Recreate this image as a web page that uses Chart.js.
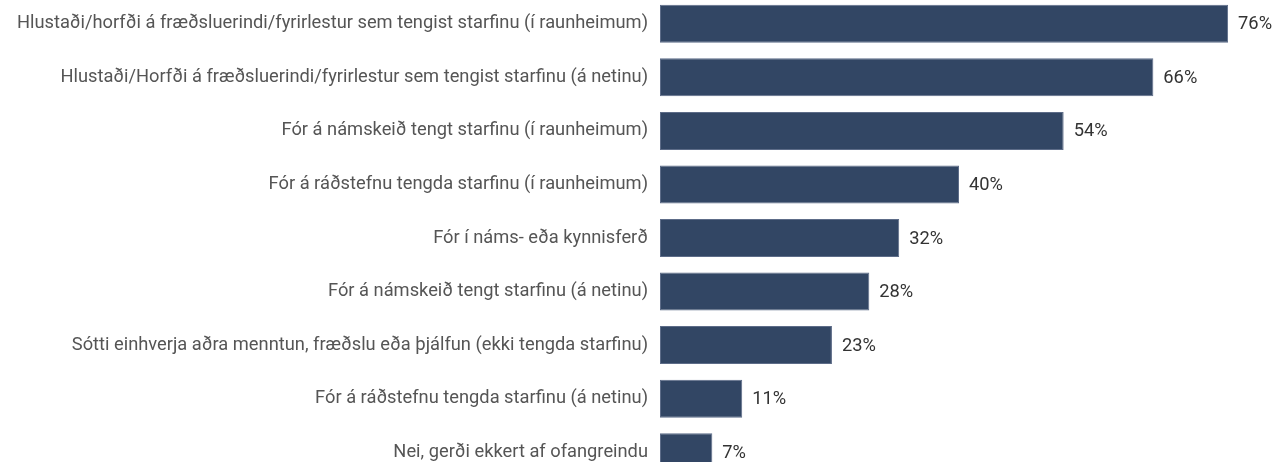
<!DOCTYPE html>
<html lang="is">
<head>
    <meta charset="UTF-8">
    <title>Fræðsla tengd starfinu</title>
    <script src="https://cdn.jsdelivr.net/npm/chart.js"></script>
    <style>
        html, body { margin: 0; padding: 0; background: #fff; overflow: hidden; }
        #chart { display: block; margin-top: -3px; }
    </style>
</head>
<body>
    <canvas id="chart" width="1278" height="482"></canvas>

    <script>
        // categories and values (percent)
        const categories = [
            'Hlustaði/horfði á fræðsluerindi/fyrirlestur sem tengist starfinu (í raunheimum)',
            'Hlustaði/Horfði á fræðsluerindi/fyrirlestur sem tengist starfinu (á netinu)',
            'Fór á námskeið tengt starfinu (í raunheimum)',
            'Fór á ráðstefnu tengda starfinu (í raunheimum)',
            'Fór í náms- eða kynnisferð',
            'Fór á námskeið tengt starfinu (á netinu)',
            'Sótti einhverja aðra menntun, fræðslu eða þjálfun (ekki tengda starfinu)',
            'Fór á ráðstefnu tengda starfinu (á netinu)',
            'Nei, gerði ekkert af ofangreindu'
        ];
        const values = [76, 66, 54, 40, 32, 28, 23, 11, 7];
        const valueLabels = ['76%', '66%', '54%', '40%', '32%', '28%', '23%', '11%', '7%'];

        // draw the % text after each bar
        const valueLabelPlugin = {
            id: 'valueLabels',
            afterDatasetsDraw(chart) {
                const ctx = chart.ctx;
                const meta = chart.getDatasetMeta(0);
                ctx.save();
                ctx.font = '18.3px Roboto';
                ctx.fillStyle = '#333333';
                ctx.textAlign = 'left';
                ctx.textBaseline = 'middle';
                meta.data.forEach((bar, i) => {
                    ctx.fillText(valueLabels[i], bar.x + 10, bar.y + 1);
                });
                ctx.restore();
            }
        };

        new Chart(document.getElementById('chart'), {
            type: 'bar',
            data: {
                labels: categories,
                datasets: [{
                    data: values,
                    backgroundColor: '#324664',
                    borderColor: '#5d6c88',
                    borderWidth: 1,
                    borderSkipped: false,
                    barPercentage: 0.71,
                    categoryPercentage: 1
                }]
            },
            options: {
                indexAxis: 'y',
                responsive: false,
                animation: false,
                layout: { padding: { left: 0, right: 20, top: 0, bottom: 0 } },
                plugins: {
                    legend: { display: false },
                    tooltip: { enabled: false }
                },
                scales: {
                    x: {
                        display: false,
                        min: 0,
                        max: 80
                    },
                    y: {
                        afterFit(scale) {
                            scale.width = 660;
                            // no extra room above/below, the image is cropped
                            scale.paddingTop = 0;
                            scale.paddingBottom = 0;
                        },
                        grid: { display: false, drawTicks: false },
                        border: { display: false },
                        ticks: {
                            padding: 12,
                            color: '#555555',
                            font: { family: 'Roboto', size: 18.3 }
                        }
                    }
                }
            },
            plugins: [valueLabelPlugin]
        });
    </script>
</body>
</html>
